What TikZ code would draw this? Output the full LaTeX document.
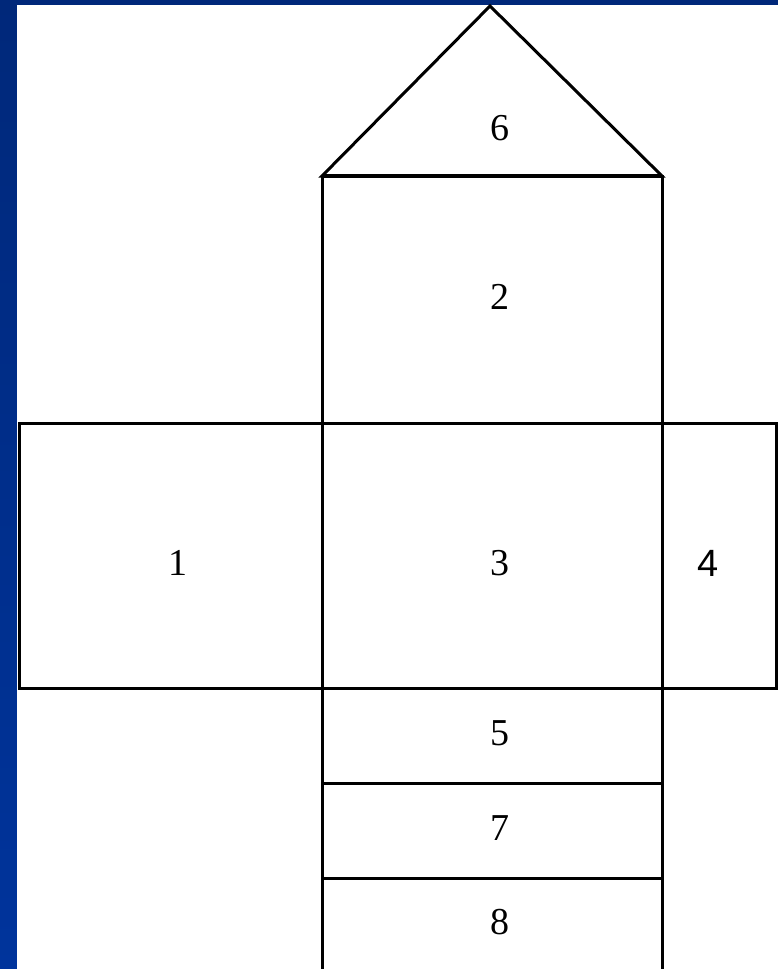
\documentclass[tikz,border=0pt]{standalone}
\usepackage{fontspec}
\setmainfont{Liberation Serif}
\newfontfamily\arialfont{Liberation Sans}
\begin{document}
\begin{tikzpicture}[x=1pt,y=-1pt,
  face/.style={draw=black,line width=3pt,fill=white},
  lbl/.style={font=\fontsize{38}{42}\selectfont,inner sep=0pt}]
\useasboundingbox (0,0) rectangle (778,969);
\clip (0,0) rectangle (778,969);
\definecolor{bluetop}{HTML}{00287A}
\definecolor{bluebot}{HTML}{00349C}
\shade[top color=bluetop,bottom color=bluebot] (0,0) rectangle (778,969);
\fill[white] (17,5) rectangle (780,975);
% faces
\draw[face] (322,176) rectangle (662,423);
\draw[face] (19,423) rectangle (322,688);
\draw[face] (322,423) rectangle (662,688);
\draw[face] (662,423) rectangle (776,688);
\draw[face] (322,688) rectangle (662,783);
\draw[face] (322,783) rectangle (662,878);
\draw[face] (322,878) rectangle (662,990);
\draw[face,line join=miter] (322,176) -- (490,6) -- (662,176) -- cycle;
\draw[black,line width=3.8pt] (322,176) -- (662,176);
% labels
\node[lbl] (l6) at (500,128) {6};
\node[lbl] (l2) at (500,297) {2};
\node[lbl] (l1) at (178,563) {1};
\node[lbl] (l3) at (500,563) {3};
\node[lbl,font=\arialfont\fontsize{38}{42}\selectfont] (l4) at (708,563) {4};
\node[lbl] (l5) at (500,733) {5};
\node[lbl] (l7) at (500,828) {7};
\node[lbl] (l8) at (500,922) {8};
\end{tikzpicture}
\end{document}
